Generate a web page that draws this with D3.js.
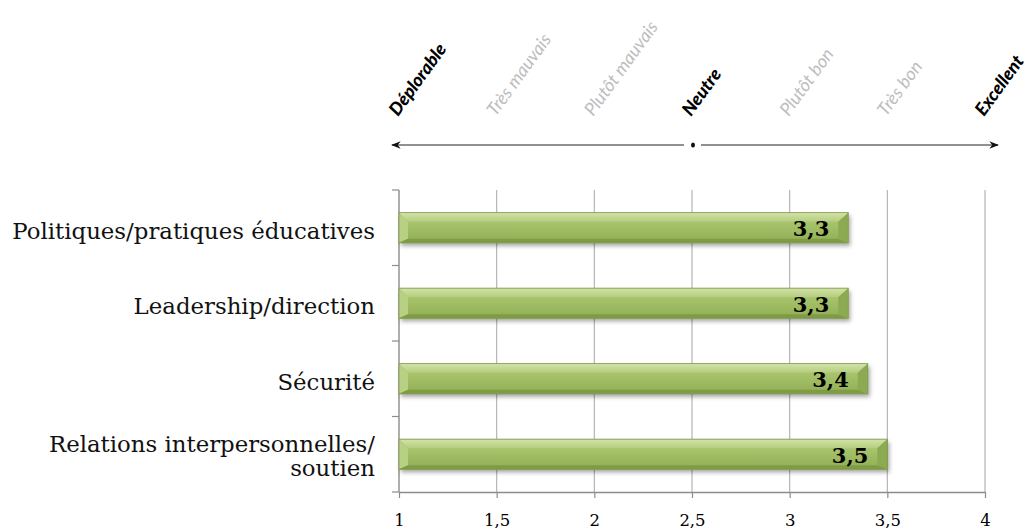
<!DOCTYPE html>
<html><head><meta charset="utf-8">
<script src="https://cdn.jsdelivr.net/npm/d3@7/dist/d3.min.js"></script>
<style>body{margin:0;background:#fff;} svg{display:block;}</style>
</head><body>
<svg id="c" width="1035" height="529"></svg>
<script>
const categories = ["Politiques/pratiques éducatives", "Leadership/direction", "Sécurité", "Relations interpersonnelles/\nsoutien"];
const values = [3.3, 3.3, 3.4, 3.5];
const valueLabels = ["3,3", "3,3", "3,4", "3,5"];
const xTicks = [1, 1.5, 2, 2.5, 3, 3.5, 4];
const xTickLabels = ["1", "1,5", "2", "2,5", "3", "3,5", "4"];
const scaleLabels = ["Déplorable", "Très mauvais", "Plutôt mauvais", "Neutre", "Plutôt bon", "Très bon", "Excellent"];
const scaleEmphasis = [true, false, false, true, false, false, true];

const svg = d3.select("#c");
const x = d3.scaleLinear().domain([1, 4]).range([399, 985]);
const y = d3.scaleBand().domain(categories).range([190, 492]).paddingInner(0.6).paddingOuter(0.3);
const step = y.step();
const serif = "'DejaVu Serif', 'Liberation Serif', serif";

const defs = svg.append("defs");
const f = defs.append("filter").attr("id", "sh").attr("x", "-5%").attr("y", "-30%").attr("width", "110%").attr("height", "180%");
f.append("feDropShadow").attr("dx", 2).attr("dy", 3).attr("stdDeviation", 2).attr("flood-color", "#000").attr("flood-opacity", 0.35);
const g1 = defs.append("linearGradient").attr("id", "topg").attr("x1", 0).attr("y1", 0).attr("x2", 0).attr("y2", 1);
g1.append("stop").attr("offset", 0).attr("stop-color", "#d3e3ab");
g1.append("stop").attr("offset", 1).attr("stop-color", "#b5cd7d");
const g2 = defs.append("linearGradient").attr("id", "bodyg").attr("x1", 0).attr("y1", 0).attr("x2", 0).attr("y2", 1);
g2.append("stop").attr("offset", 0).attr("stop-color", "#a8c46c");
g2.append("stop").attr("offset", 1).attr("stop-color", "#96b259");

// gridlines
svg.append("g").selectAll("line").data(xTicks.slice(1)).join("line")
  .attr("x1", d => x(d)).attr("x2", d => x(d))
  .attr("y1", y.range()[0]).attr("y2", y.range()[1])
  .attr("stroke", "#b4b4b4").attr("stroke-width", 1.2);

// x axis
const xAxis = svg.append("g").attr("transform", `translate(0,${y.range()[1]})`)
  .call(d3.axisBottom(x).tickValues(xTicks).tickSize(6).tickSizeOuter(0).tickFormat((d, i) => xTickLabels[i]));
xAxis.select(".domain").attr("stroke", "#8c8c8c").attr("stroke-width", 1.4);
xAxis.selectAll(".tick line").attr("stroke", "#8c8c8c").attr("stroke-width", 1.2);
xAxis.selectAll(".tick text").attr("font-family", serif).attr("font-size", 16.5).attr("fill", "#000").attr("y", 28).attr("dy", "0.35em");

// y axis
const yTickPos = d3.range(categories.length + 1).map(i => y.range()[0] + i * step);
svg.append("line").attr("x1", x(1)).attr("x2", x(1)).attr("y1", y.range()[0]).attr("y2", y.range()[1])
  .attr("stroke", "#8c8c8c").attr("stroke-width", 1.4);
svg.append("g").selectAll("line").data(yTickPos).join("line")
  .attr("x1", x(1) - 7).attr("x2", x(1)).attr("y1", d => d).attr("y2", d => d)
  .attr("stroke", "#8c8c8c").attr("stroke-width", 1.2);

// bars
const bars = svg.append("g").selectAll("g").data(categories).join("g");
bars.each(function(c, i) {
  const gg = d3.select(this);
  const x0 = x(1), x1 = x(values[i]);
  const y0 = y(c), h = y.bandwidth(), y1 = y0 + h;
  const bt = 9, bb = 4, bl = 9, br = 10;
  gg.append("rect").attr("x", x0).attr("y", y0).attr("width", x1 - x0).attr("height", h)
    .attr("fill", "#9bbb59").attr("filter", "url(#sh)");
  gg.append("rect").attr("x", x0 + bl).attr("y", y0 + bt).attr("width", x1 - x0 - bl - br).attr("height", h - bt - bb)
    .attr("fill", "url(#bodyg)");
  const poly = (pts, fill) => gg.append("polygon").attr("points", pts.map(p => p.join(",")).join(" ")).attr("fill", fill);
  poly([[x0, y0], [x1, y0], [x1 - br, y0 + bt], [x0 + bl, y0 + bt]], "url(#topg)");
  poly([[x0, y0], [x0 + bl, y0 + bt], [x0 + bl, y1 - bb], [x0, y1]], "#b8d083");
  poly([[x0, y1], [x0 + bl, y1 - bb], [x1 - br, y1 - bb], [x1, y1]], "#7e9b45");
  poly([[x1, y0], [x1, y1], [x1 - br, y1 - bb], [x1 - br, y0 + bt]], "#8caa52");
  gg.append("rect").attr("x", x0).attr("y", y0).attr("width", x1 - x0).attr("height", h)
    .attr("fill", "none").attr("stroke", "#7f9a4a").attr("stroke-width", 0.8);
  gg.append("text").attr("x", x1 - 19).attr("y", y0 + h / 2 + 1).attr("dy", "0.36em")
    .attr("text-anchor", "end").attr("font-family", serif).attr("font-weight", "bold")
    .attr("font-size", 21).attr("fill", "#000").text(valueLabels[i]);
});

// category labels
const labG = svg.append("g");
const labels = labG.selectAll("text").data(categories).join("text")
  .attr("text-anchor", "end").attr("font-family", serif).attr("font-size", 20).attr("fill", "#111");
labels.each(function(c) {
  const t = d3.select(this);
  const lines = c.split("\n");
  const cy = y(c) + y.bandwidth() / 2;
  const lh = 24;
  lines.forEach((ln, j) => {
    t.append("tspan").attr("x", 375).attr("y", cy + (j - (lines.length - 1) / 2) * lh + (lines.length > 1 ? 2 : 3)).attr("dy", "0.35em").text(ln);
  });
});
const firstLen = labels.nodes()[0].getComputedTextLength();
const fs = 20 * 363 / firstLen;
labels.attr("font-size", fs);

// top scale labels
const header = svg.append("g");
header.selectAll("text").data(scaleLabels).join("text")
  .attr("transform", (d, i) => `translate(${x(xTicks[i]) - 1},117) rotate(-54)`)
  .attr("font-family", "Lato, 'Open Sans', sans-serif").attr("font-style", "italic")
  .attr("font-weight", (d, i) => scaleEmphasis[i] ? "900" : "normal")
  .attr("font-size", 18)
  .attr("fill", (d, i) => scaleEmphasis[i] ? "#000" : "#bdbdbd")
  .text(d => d);

// arrow
const ay = 145, mid = x(2.5);
defs.append("marker").attr("id", "ah").attr("viewBox", "0 0 10 10").attr("refX", 9).attr("refY", 5)
  .attr("markerWidth", 8).attr("markerHeight", 8).attr("orient", "auto-start-reverse")
  .append("path").attr("d", "M0,1 L10,5 L0,9 L3,5 Z").attr("fill", "#111");
svg.append("line").attr("x1", x(1) - 7).attr("x2", mid - 8).attr("y1", ay).attr("y2", ay)
  .attr("stroke", "#222").attr("stroke-width", 1.2).attr("marker-start", "url(#ah)");
svg.append("line").attr("x1", mid + 9).attr("x2", x(4) + 13).attr("y1", ay).attr("y2", ay)
  .attr("stroke", "#222").attr("stroke-width", 1.2).attr("marker-end", "url(#ah)");
svg.append("ellipse").attr("cx", mid + 1).attr("cy", ay).attr("rx", 2).attr("ry", 2.6).attr("fill", "#111");
</script>
</body></html>
